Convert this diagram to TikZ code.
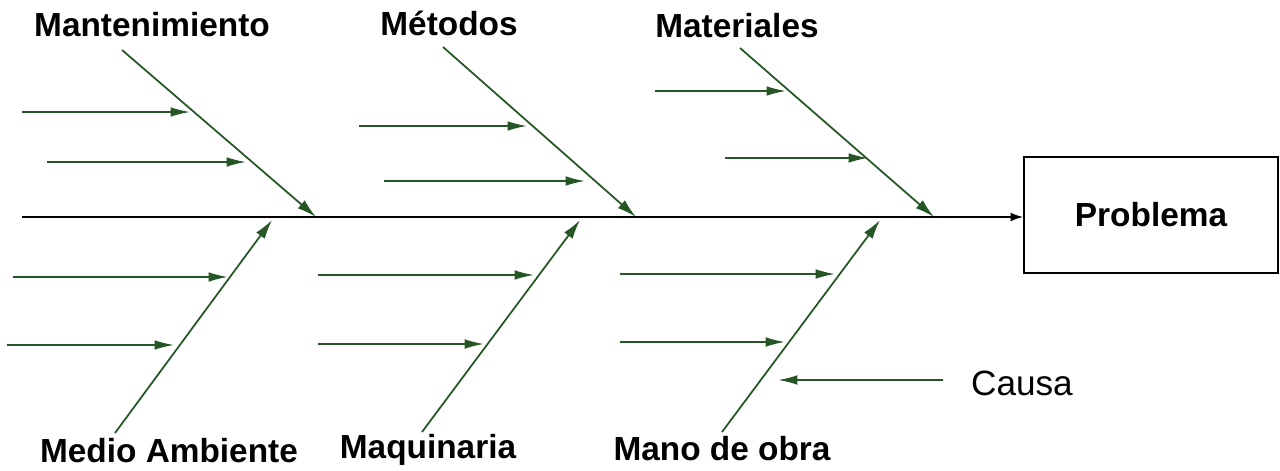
\documentclass[tikz,border=0pt]{standalone}
\usepackage{fontspec}
\setmainfont{Liberation Sans}
\usetikzlibrary{arrows,arrows.meta,shapes,positioning,calc}
\definecolor{bonegreen}{RGB}{38,86,38}
\tikzset{
  bone/.style={draw=bonegreen,line width=1pt,-{Latex[length=11pt,width=6pt]}},
  rib/.style={draw=bonegreen,line width=1pt,-{Latex[length=11pt,width=5.5pt]}},
  lbl/.style={font=\fontsize{19}{22}\selectfont\bfseries,inner sep=0pt},
}
\begin{document}
\begin{tikzpicture}[x=0.02cm,y=-0.02cm]
        \useasboundingbox (0,0) rectangle (1280,470);
        % problema
        \node[draw,line width=1.2pt,minimum width=5.08cm,minimum height=2.32cm,lbl] (prob) at (1151,215){Problema};
        \coordinate (tail) at (22,217);
        \draw[-{Latex[length=7pt,width=5pt]},line width=0.8pt] (tail) -- (prob.west|-tail);
        % categorias arriba
        \node[lbl] (mant) at (152,25){Mantenimiento};
        \node[lbl] (meto) at (449,23){M\'etodos};
        \node[lbl] (mate) at (737,26){Materiales};
        \coordinate (mant0) at (122,50);  \coordinate (mant1) at (316,217);
        \coordinate (meto0) at (443,47);  \coordinate (meto1) at (636,217);
        \coordinate (mate0) at (740,48);  \coordinate (mate1) at (934,217);
        \draw[bone] (mant0) -- (mant1);
        \draw[bone] (meto0) -- (meto1);
        \draw[bone] (mate0) -- (mate1);
        % categorias abajo
        \node[lbl] (medi) at (169,451){Medio Ambiente};
        \node[lbl] (maqu) at (428,450){Maquinaria};
        \node[lbl] (mano) at (722,449){Mano de obra};
        \coordinate (medi0) at (115,433); \coordinate (medi1) at (272,220);
        \coordinate (maqu0) at (422,432); \coordinate (maqu1) at (580,220);
        \coordinate (mano0) at (722,432); \coordinate (mano1) at (880,220);
        \draw[bone] (medi0) -- (medi1);
        \draw[bone] (maqu0) -- (maqu1);
        \draw[bone] (mano0) -- (mano1);
        % causas
        \foreach \a/\b/\c/\y in {22/190/mant0/112,47/246/mant0/162,
                                 359/527/meto0/126,384/585/meto0/181,
                                 655/786/mate0/91,725/868/mate0/158,
                                 13/228/medi0/277,7/174/medi0/345,
                                 318/534/maqu0/275,318/484/maqu0/344,
                                 620/835/mano0/274,620/785/mano0/342}
        {
          \coordinate (r\a) at (\a,\y);
          \coordinate (s\a) at (\b,\y);
          \draw[rib] (r\a) -- (s\a);
        }
        \node[font=\fontsize{20}{24}\selectfont,inner sep=0pt] (causa) at (1022,383){Causa};
        \coordinate (cau0) at (943,380);
        \coordinate (cau1) at (778,380);
        \draw[rib] (cau0) -- (cau1);
\end{tikzpicture}
\end{document}
